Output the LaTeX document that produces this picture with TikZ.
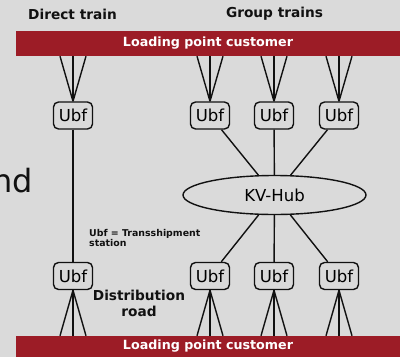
\documentclass[tikz,border=0pt]{standalone}
\usepackage{fontspec}
\setmainfont{DejaVu Sans}
\usetikzlibrary{shapes.geometric}
\definecolor{bg}{HTML}{DADADA}
\definecolor{barred}{HTML}{9C1C26}
\definecolor{ink}{HTML}{111111}
\tikzset{
  bar/.style={fill=barred, draw=none, minimum width=384pt, inner sep=0pt, text=white,
    font=\fontsize{12.7}{14}\selectfont\bfseries},
  ubf/.style={draw=ink, line width=1.4pt, rounded corners=5pt, minimum width=39pt,
    minimum height=27pt, inner sep=0pt, fill=bg, font=\fontsize{16.5}{18}\selectfont},
  hubstyle/.style={ellipse, draw=ink, line width=1.4pt, minimum width=183pt,
    minimum height=39pt, inner sep=0pt, font=\fontsize{16.5}{18}\selectfont},
  conn/.style={draw=ink, line width=1.4pt},
  title/.style={font=\fontsize{13.7}{15}\selectfont\bfseries, text=ink, inner sep=0pt},
  note/.style={font=\fontsize{9.4}{10.5}\selectfont\bfseries, text=ink, inner sep=0pt, align=left},
  road/.style={font=\fontsize{13.7}{16}\selectfont\bfseries, text=ink, inner sep=0pt, align=center}
}
\begin{document}
\begin{tikzpicture}[x=1pt, y=-1pt]
\fill[bg] (0,0) rectangle (400,357);
\useasboundingbox (0,0) rectangle (400,357);
% bars
\node[bar, minimum height=25pt] (barT) at (208,43.5) {Loading point customer};
\node[bar, minimum height=21pt] (barB) at (208,346.5) {Loading point customer};
% titles
\node[title] (tDirect) at (72.5,14) {Direct train};
\node[title] (tGroup) at (274.5,14) {Group trains};
% partial text at left (cut off at the edge as in the reference)
\node[anchor=base east, inner sep=0pt, text=ink, font=\fontsize{32}{36}\selectfont] (nd) at (33.5,192) {nd};
% Ubf nodes
\foreach \i/\x in {0/73,1/210,2/274,3/339}{
  \node[ubf] (ubfT\i) at (\x,115.5) {Ubf};
  \node[ubf] (ubfB\i) at (\x,276) {Ubf};
}
\node[hubstyle] (hub) at (274.5,195) {KV-Hub};
% connectors bar -> top Ubf, bottom Ubf -> bar
\foreach \i in {0,1,2,3}{
  \foreach \d in {-13,0,13}{
    \draw[conn] ([xshift=\d pt]ubfT\i.north |- barT.south) -- (ubfT\i.north);
    \draw[conn] (ubfB\i.south) -- ([xshift=\d pt]ubfB\i.south |- barB.north);
  }
}
% direct train line
\draw[conn] (ubfT0) -- (ubfB0);
% hub connections
\foreach \i in {1,2,3}{
  \draw[conn] (ubfT\i) -- (hub);
  \draw[conn] (hub) -- (ubfB\i);
}
% labels
\node[note, anchor=north west] (legend) at (89,229) {Ubf = Transshipment\\station};
\node[road] (roadlbl) at (139,303) {Distribution\\road};
\end{tikzpicture}
\end{document}
